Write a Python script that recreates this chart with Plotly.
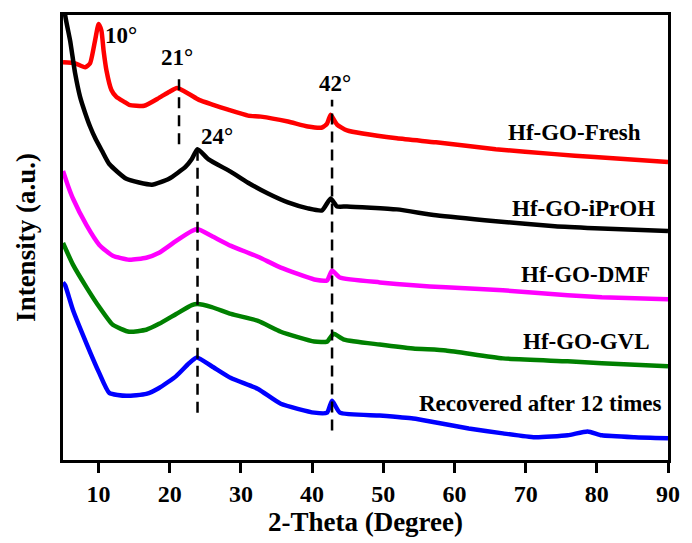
import plotly.graph_objects as go

# 2-theta (degree) and intensity (a.u.) for each sample
fresh_x = [5.0, 6.7, 8.1, 8.8, 9.5, 10.0, 10.4, 10.7, 11.1, 11.8, 12.5, 13.6, 14.3, 16.4, 18.5, 19.9, 21.0,
           22.7, 24.1, 26.1, 28.2, 31.0, 32.8, 36.6, 39.4, 41.4, 42.1, 42.6, 42.8, 43.5, 44.9, 51.9, 57.4,
           65.8, 74.1, 79.7, 90.0]
fresh_y = [403, 402, 398, 402, 425, 442, 435, 415, 395, 375, 368, 363, 360, 359, 367, 373, 377,
           371, 365, 360, 355, 349, 348, 343, 338, 337, 341, 350, 348, 340, 334, 326, 322,
           315, 310, 307, 302]

iproh_x = [5.0, 5.3, 6.0, 6.7, 7.4, 8.1, 8.8, 9.6, 10.5, 11.5, 13.9, 17.5, 19.9, 22.2, 23.1, 23.9, 25.4,
           28.6, 31.0, 33.8, 36.6, 39.4, 41.4, 42.6, 43.5, 44.9, 51.9, 57.4, 65.8, 74.1, 79.7, 90.0]
iproh_y = [485, 451, 425, 392, 368, 352, 338, 325, 313, 300, 285, 279, 285, 297, 305, 315, 305,
           292, 281, 270, 261, 255, 253, 265, 257, 257, 254, 248, 242, 237, 235, 232]

dmf_x = [5.0, 5.7, 6.4, 8.3, 10.1, 12.0, 14.3, 16.7, 18.5, 20.9, 23.1, 23.9, 25.9, 28.6, 32.4, 35.6,
         40.3, 42.1, 42.8, 43.9, 49.5, 54.2, 58.8, 66.8, 75.9, 80.7, 90.0]
dmf_y = [293, 278, 265, 238, 218, 207, 203, 205, 210, 222, 232, 234, 227, 217, 206, 195,
         183, 182, 192, 185, 180, 177, 175, 172, 167, 165, 163]

gvl_x = [5.0, 6.4, 8.3, 10.1, 12.0, 14.3, 16.7, 18.5, 20.9, 23.1, 23.9, 25.9, 28.6, 32.4, 35.6,
         40.3, 42.1, 43.0, 44.5, 49.5, 54.2, 58.8, 66.8, 75.9, 80.7, 90.0]
gvl_y = [220, 198, 175, 155, 137, 130, 132, 138, 148, 157, 158, 155, 148, 141, 130,
         120, 120, 128, 122, 117, 113, 111, 103, 100, 98, 95]

rec_x = [5.0, 5.3, 6.4, 8.3, 10.1, 11.5, 13.9, 16.7, 18.5, 20.9, 22.7, 23.8, 25.9, 28.6, 32.4, 35.6,
         40.3, 42.1, 42.8, 43.9, 49.5, 54.2, 57.4, 62.0, 66.8, 71.3, 75.9, 78.7, 80.7, 85.3, 90.0]
rec_y = [180, 177, 152, 118, 88, 68, 65, 67, 73, 85, 98, 104, 95, 83, 72, 57,
         48, 48, 60, 48, 45, 42, 38, 32, 27, 23, 25, 29, 25, 23, 22]

series = [
    ("Hf-GO-Fresh", fresh_x, fresh_y, "#ff0000"),
    ("Hf-GO-iPrOH", iproh_x, iproh_y, "#000000"),
    ("Hf-GO-DMF", dmf_x, dmf_y, "#ff00ff"),
    ("Hf-GO-GVL", gvl_x, gvl_y, "#008000"),
    ("Recovered after 12 times", rec_x, rec_y, "#0000ff"),
]

# sample label positions (2-theta, intensity)
label_x = [76.8, 78.1, 78.4, 78.5, 72.1]
label_y = [332, 255, 188, 120, 57]

# reference peak lines: position, lower and upper intensity
peak_pos = [21.3, 23.9, 42.8]
peak_lo = [320, 48, 30]
peak_hi = [390, 318, 365]

# peak labels
peak_text = ["10°", "21°", "24°", "42°"]
peak_tx = [13.2, 21.0, 26.7, 43.2]
peak_ty = [430, 408, 328, 382]

x_ticks = [10, 20, 30, 40, 50, 60, 70, 80, 90]

FONT = "Liberation Serif, Times New Roman, serif"

fig = go.Figure()
for name, xs, ys, col in series:
    fig.add_trace(go.Scatter(x=xs, y=ys, mode="lines", name=name,
                             line=dict(color=col, width=4.5, shape="spline", smoothing=0.5),
                             showlegend=False))

for xp, lo, hi in zip(peak_pos, peak_lo, peak_hi):
    fig.add_shape(type="line", xref="x", yref="y", x0=xp, x1=xp, y0=lo, y1=hi,
                  line=dict(color="black", width=2.5, dash="11px,7px"))

for (name, _, _, _), lx, ly in zip(series, label_x, label_y):
    fig.add_annotation(x=lx, y=ly, text=name, showarrow=False,
                       font=dict(family=FONT, size=23, color="black", weight="bold"))

for t, tx, ty in zip(peak_text, peak_tx, peak_ty):
    fig.add_annotation(x=tx, y=ty, text=t, showarrow=False,
                       font=dict(family=FONT, size=23, color="black", weight="bold"))

fig.update_layout(
    width=692, height=543,
    margin=dict(l=63, r=18, t=14, b=78),
    paper_bgcolor="white", plot_bgcolor="white",
    font=dict(family=FONT, color="black"),
)
fig.update_xaxes(
    range=[5, 90], tickvals=x_ticks, ticks="outside", ticklen=10, tickwidth=2.5,
    tickcolor="black", showline=True, linewidth=2.5, linecolor="black", mirror=True,
    showgrid=False, zeroline=False,
    tickfont=dict(family=FONT, size=24, color="black", weight="bold"),
    title=dict(text="2-Theta (Degree)", standoff=6,
               font=dict(family=FONT, size=27, color="black", weight="bold")),
)
fig.update_yaxes(
    range=[0, 451], showticklabels=False, ticks="", showline=True, linewidth=2.5,
    linecolor="black", mirror=True, showgrid=False, zeroline=False,
    title=dict(text="Intensity (a.u.)", standoff=17,
               font=dict(family=FONT, size=27, color="black", weight="bold")),
)

fig.write_html("out.html")
